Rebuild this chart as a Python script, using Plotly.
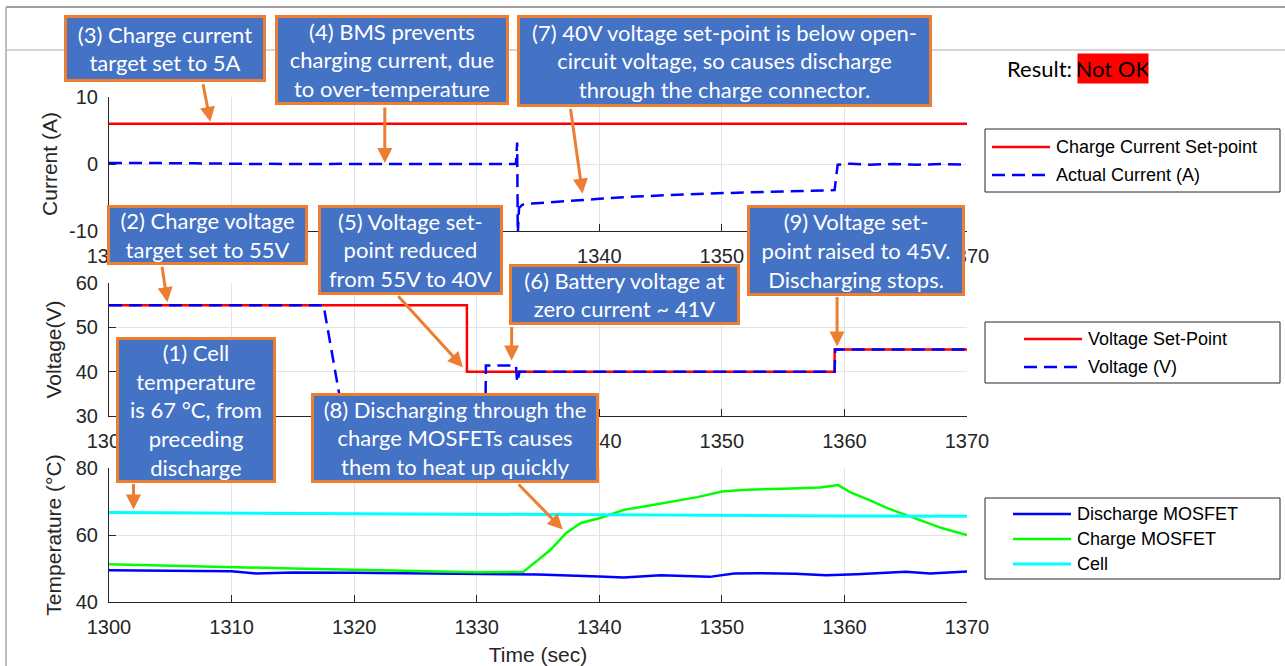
import plotly.graph_objects as go

W, H = 1285, 666

# ---------------- data ----------------
# Charge current set-point (A)
cset_time = [1300, 1370]
cset_val = [6.0, 6.0]

# Measured charge current (A)
cur_time = [1300, 1301, 1302, 1303, 1304, 1305, 1306, 1307, 1308, 1309, 1310,
            1311, 1312, 1313, 1314, 1315, 1316, 1317, 1318, 1319, 1320,
            1333.2, 1333.3, 1333.35, 1333.45, 1333.7, 1334.5, 1336, 1338,
            1340, 1343, 1346, 1349, 1352, 1355, 1358, 1359.2, 1359.3,
            1359.45, 1360.5, 1362, 1364, 1366, 1368, 1370]
cur_val = [0.15, 0.12, 0.18, 0.10, 0.14, 0.12, 0.16, 0.10, 0.08, 0.05, 0.0,
           -0.02, 0.0, 0.03, -0.03, 0.0, 0.02, -0.02, 0.0, 0.04, 0.0,
           0.0, 3.2, -10.5, -6.6, -6.1, -5.9, -5.7, -5.4,
           -5.2, -4.85, -4.6, -4.4, -4.25, -4.1, -3.95, -3.9, -2.3,
           -0.1, 0.05, -0.1, 0.0, -0.1, 0.0, -0.1]

# Voltage set-point (V)
vset_time = [1300, 1329.2, 1329.2, 1359.2, 1359.2, 1370]
vset_val = [55, 55, 40, 40, 45, 45]

# Measured voltage (V)
volt_time = [1300, 1317.5, 1319.1, 1320.5, 1330.6, 1330.75, 1333.2, 1333.3,
             1333.5, 1359.2, 1359.25, 1370]
volt_val = [55, 55, 30, 0, 0, 41.4, 41.4, 37.6, 40, 40, 45, 45]

# Temperatures (deg C)
cell_time = [1300, 1310, 1320, 1330, 1340, 1350, 1360, 1370]
cell_val = [66.7, 66.5, 66.3, 66.1, 65.9, 65.8, 65.7, 65.6]

chg_time = [1300, 1305, 1310, 1315, 1320, 1325, 1330, 1333.8, 1335, 1336,
            1337.3, 1338.5, 1340, 1342, 1344, 1346, 1348, 1350, 1352, 1355,
            1358, 1359.5, 1360.5, 1362, 1363.5, 1365, 1366.5, 1368, 1370]
chg_val = [51.3, 50.8, 50.4, 50.0, 49.6, 49.3, 48.9, 49.0, 52.5, 55.5,
           60.6, 63.6, 65.0, 67.5, 68.7, 70.0, 71.3, 73.0, 73.5, 73.8,
           74.2, 74.9, 72.7, 70.5, 68.0, 66.0, 64.0, 62.0, 60.0]

dis_time = [1300, 1305, 1310, 1312, 1315, 1320, 1325, 1330, 1335, 1340,
            1342, 1345, 1349, 1351, 1353, 1356, 1358.5, 1361, 1365, 1367, 1370]
dis_val = [49.5, 49.4, 49.2, 48.5, 48.8, 48.7, 48.6, 48.4, 48.2, 47.6,
           47.3, 48.0, 47.5, 48.5, 48.6, 48.4, 48.0, 48.3, 49.0, 48.5, 49.1]

# Tick labels
time_ticks = [1300, 1310, 1320, 1330, 1340, 1350, 1360, 1370]
current_ticks = [-10, 0, 10]
current_tick_text = ["-10", "0", "10"]

# ---------------- styling ----------------
AX = "#262626"
GRID = "#e3e3e3"
TICK_FONT = dict(family="Liberation Sans, Arial", size=20, color=AX)
TITLE_FONT = dict(family="Liberation Sans, Arial", size=21, color=AX)
BOX_FONT = dict(family="Lato", size=22, color="white")
BOX_FILL = "#4472C4"
BOX_EDGE = "#ED7D31"
RED, BLUE, GREEN, CYAN = "#FF0000", "#0000FF", "#00FF00", "#00FFFF"
DASH = "13px,7px"


def px(x):
    return x / W


def py(y):
    return 1 - y / H


fig = go.Figure()

fig.add_trace(go.Scatter(x=cset_time, y=cset_val, mode="lines", name="Charge Current Set-point",
                         line=dict(color=RED, width=2.5), xaxis="x", yaxis="y"))
fig.add_trace(go.Scatter(x=cur_time, y=cur_val, mode="lines", name="Actual Current (A)",
                         line=dict(color=BLUE, width=2.5, dash=DASH), xaxis="x", yaxis="y"))
fig.add_trace(go.Scatter(x=vset_time, y=vset_val, mode="lines", name="Voltage Set-Point",
                         line=dict(color=RED, width=2.5), xaxis="x2", yaxis="y2"))
fig.add_trace(go.Scatter(x=volt_time, y=volt_val, mode="lines", name="Voltage (V)",
                         line=dict(color=BLUE, width=2.5, dash=DASH), xaxis="x2", yaxis="y2"))
fig.add_trace(go.Scatter(x=dis_time, y=dis_val, mode="lines", name="Discharge MOSFET",
                         line=dict(color=BLUE, width=2.5), xaxis="x3", yaxis="y3"))
fig.add_trace(go.Scatter(x=chg_time, y=chg_val, mode="lines", name="Charge MOSFET",
                         line=dict(color=GREEN, width=2.5), xaxis="x3", yaxis="y3"))
fig.add_trace(go.Scatter(x=cell_time, y=cell_val, mode="lines", name="Cell",
                         line=dict(color=CYAN, width=3), xaxis="x3", yaxis="y3"))

xdom = [px(109), px(967)]
panels = [(97, 231), (283, 416), (468, 602)]
yspecs = [([-10, 10], 10, "Current (A)", 5),
          ([30, 60], 10, "Voltage(V)", 8),
          ([40, 80], 20, "Temperature (°C)", 8)]

layout = dict(
    width=W, height=H, margin=dict(l=0, r=0, t=0, b=0, autoexpand=False),
    paper_bgcolor="white", plot_bgcolor="white", showlegend=False,
)
for i, ((top, bot), (yr, dt, ttl, so)) in enumerate(zip(panels, yspecs)):
    sfx = "" if i == 0 else str(i + 1)
    xa = dict(domain=xdom, range=[1300, 1370], tickmode="array", tickvals=time_ticks,
              anchor="y" + sfx, showline=True, linecolor=AX, linewidth=1,
              ticks="inside", ticklen=7, tickcolor=AX, showgrid=True,
              gridcolor=GRID, zeroline=False, tickfont=TICK_FONT,
              ticklabelstandoff=7, automargin=False)
    if i == 2:
        xa["title"] = dict(text="Time (sec)", font=TITLE_FONT, standoff=10)
    ya = dict(domain=[py(bot), py(top)], range=yr, tick0=yr[0], dtick=dt,
              anchor="x" + sfx, showline=True, linecolor=AX, linewidth=1,
              ticks="inside", ticklen=7, tickcolor=AX, showgrid=True,
              gridcolor=GRID, zeroline=False, tickfont=TICK_FONT,
              ticklabelstandoff=6, automargin=False,
              title=dict(text=ttl, font=TITLE_FONT, standoff=so))
    if i == 0:
        ya.update(tickmode="array", tickvals=current_ticks, ticktext=current_tick_text)
    layout["xaxis" + sfx] = xa
    layout["yaxis" + sfx] = ya

fig.update_layout(**layout)

shapes = []
annotations = []

# window frame lines
shapes.append(dict(type="line", xref="paper", yref="paper", x0=px(6), x1=1, y0=py(7), y1=py(7),
                   line=dict(color="#a0a0a0", width=2)))
shapes.append(dict(type="line", xref="paper", yref="paper", x0=px(6), x1=1, y0=py(50), y1=py(50),
                   line=dict(color="#c8c8c8", width=1.5)))
shapes.append(dict(type="line", xref="paper", yref="paper", x0=px(6), x1=px(6), y0=0, y1=py(7),
                   line=dict(color="#a8a8a8", width=1.5)))

# legends drawn as framed boxes
legends = [
    ((985, 1280, 129, 192), 992, 1050, [
        ("Charge Current Set-point", RED, None, 147),
        ("Actual Current (A)", BLUE, DASH, 175)]),
    ((985, 1280, 322, 383), 1024, 1082, [
        ("Voltage Set-Point", RED, None, 339),
        ("Voltage (V)", BLUE, DASH, 367)]),
    ((985, 1280, 498, 579), 1013, 1071, [
        ("Discharge MOSFET", BLUE, None, 514),
        ("Charge MOSFET", GREEN, None, 539),
        ("Cell", CYAN, None, 564)]),
]
for (x0, x1, y0, y1), lx0, lx1, items in legends:
    shapes.append(dict(type="rect", xref="paper", yref="paper", x0=px(x0), x1=px(x1),
                       y0=py(y1), y1=py(y0), line=dict(color="#262626", width=1),
                       fillcolor="white"))
    for label, color, dash, yy in items:
        ln = dict(color=color, width=2.5 if color != CYAN else 3)
        if dash:
            ln["dash"] = DASH
        shapes.append(dict(type="line", xref="paper", yref="paper", x0=px(lx0), x1=px(lx1),
                           y0=py(yy), y1=py(yy), line=ln))
        annotations.append(dict(text=label, xref="paper", yref="paper", x=px(lx1 + 4), y=py(yy),
                                xanchor="left", yanchor="middle", showarrow=False,
                                font=dict(family="Liberation Sans, Arial", size=18, color="black")))

# callout boxes: (text, left, right, top, bottom)
boxes = [
    ("(3) Charge current<br>target set to 5A", 64, 266, 15, 82),
    ("(4) BMS prevents<br>charging current, due<br>to over-temperature", 275, 509, 15, 105),
    ("(7) 40V voltage set-point is below open-<br>circuit voltage, so causes discharge<br>through the charge connector.", 517, 932, 15, 107),
    ("(2) Charge voltage<br>target set to 55V", 107, 308, 205, 265),
    ("(5) Voltage set-<br>point reduced<br>from 55V to 40V", 318, 503, 205, 295),
    ("(6) Battery voltage at<br>zero current ~ 41V", 509, 740, 264, 325),
    ("(9) Voltage set-<br>point raised to 45V.<br>Discharging stops.", 747, 965, 205, 296),
    ("(1) Cell<br>temperature<br>is 67 °C, from<br>preceding<br>discharge", 116, 276, 337, 483),
    ("(8) Discharging through the<br>charge MOSFETs causes<br>them to heat up quickly", 311, 599, 393, 483),
]

# arrows: (x axis, y axis, tip time, tip value, tail dx, tail dy, standoff)
arrows = [
    ("x", "y", 1308.3, 6.0, -8, -41, 2),
    ("x", "y", 1322.5, 0.0, 0, -58, 1),
    ("x", "y", 1338.7, -5.3, -13, -92, 6),
    ("x2", "y2", 1304.8, 55, -6, -40, 3),
    ("x2", "y2", 1329.2, 40, -70, -77, 6),
    ("x2", "y2", 1332.85, 41.4, 0, -40, 5),
    ("x2", "y2", 1359.4, 45, 0, -54, 3),
    ("x3", "y3", 1302, 66.7, 0, -30, 3),
    ("x3", "y3", 1337.3, 60.6, -49, -50, 5),
]
for xr, yr_, tx, ty, dx, dy, so in arrows:
    annotations.append(dict(text="", x=tx, y=ty, xref=xr, yref=yr_, ax=dx, ay=dy,
                            showarrow=True, arrowhead=2, arrowsize=1, arrowwidth=3,
                            arrowcolor=BOX_EDGE, standoff=so))

for text, l, r, t, b in boxes:
    annotations.append(dict(text=text, xref="paper", yref="paper", x=px(l), y=py(t),
                            xanchor="left", yanchor="top", showarrow=False,
                            width=r - l - 6, height=b - t - 6, align="center", valign="middle",
                            bgcolor=BOX_FILL, bordercolor=BOX_EDGE, borderwidth=3, borderpad=0,
                            font=BOX_FONT))

# verdict text
annotations.append(dict(text="Result:", xref="paper", yref="paper", x=px(1005), y=py(68),
                        xanchor="left", yanchor="middle", showarrow=False,
                        font=dict(family="Lato", size=22, color="black")))
annotations.append(dict(text="Not OK", xref="paper", yref="paper", x=px(1077), y=py(53),
                        xanchor="left", yanchor="top", showarrow=False,
                        width=70, height=29, borderpad=0, bgcolor="#FF0000",
                        font=dict(family="Lato", size=22, color="black")))

fig.update_layout(shapes=shapes, annotations=annotations)
fig.write_html("out.html")
